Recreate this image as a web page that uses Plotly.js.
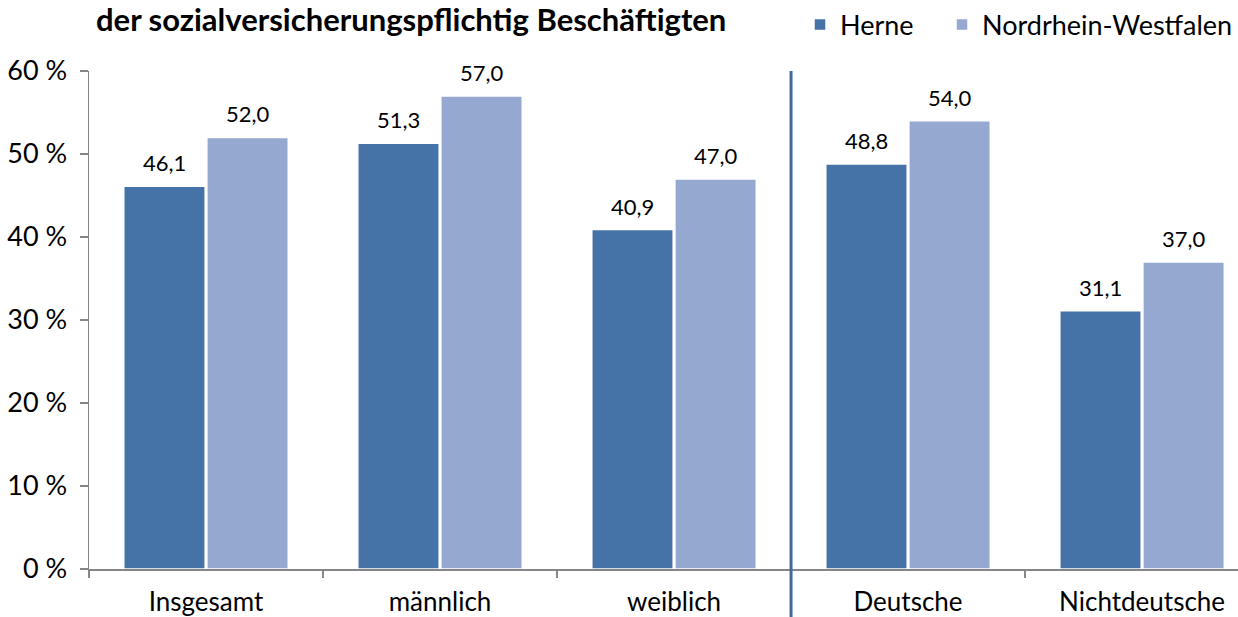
<!DOCTYPE html>
<html>
<head>
<meta charset="utf-8">
<script src="https://cdn.plot.ly/plotly-3.0.1.min.js"></script>
<style>html,body{margin:0;padding:0;background:#fff;}#chart{width:1238px;height:617px;}</style>
</head>
<body>
<div id="chart"></div>
<script>
const categories = ["Insgesamt", "männlich", "weiblich", "Deutsche", "Nichtdeutsche"];
const herne = [46.1, 51.3, 40.9, 48.8, 31.1];
const nrw = [52.0, 57.0, 47.0, 54.0, 37.0];
const seriesNames = ["Herne", "Nordrhein-Westfalen"];
const titleText = "der sozialversicherungspflichtig Beschäftigten";

const FONT = "Lato, 'Open Sans', sans-serif";
const fmt = v => v.toFixed(1).replace('.', ',');
const bargap = 0.29, groupgap = 0.02;
const off = (1 - bargap) / 4;

const traces = [
  {type: 'bar', name: seriesNames[0], x: categories, y: herne, legend: 'legend',
   marker: {color: '#4572a7', line: {color: '#ffffff', width: 1.5}}, hoverinfo: 'none'},
  {type: 'bar', name: seriesNames[1], x: categories, y: nrw, legend: 'legend2',
   marker: {color: '#95a9d0', line: {color: '#ffffff', width: 1.5}}, hoverinfo: 'none'}
];

const annotations = [];
[herne, nrw].forEach((arr, s) => {
  arr.forEach((v, i) => {
    annotations.push({x: i + (s === 0 ? -off : off), xref: 'x', y: v, yref: 'y',
      text: fmt(v), showarrow: false, yanchor: 'bottom', yshift: 8,
      font: {family: FONT, size: 22, color: '#000'}});
  });
});
annotations.push({x: (95 - 89) / 1149, xref: 'paper', xanchor: 'left',
  y: (569 - 19) / 498, yref: 'paper', yanchor: 'middle', borderpad: 0,
  text: '<b>' + titleText + '</b>', showarrow: false,
  font: {family: FONT, size: 31, color: '#000'}});

const legendBase = {orientation: 'h', y: (569 - 25) / 498, yanchor: 'middle',
  font: {family: FONT, size: 27, color: '#000'}, itemwidth: 30, bgcolor: 'rgba(0,0,0,0)'};

const layout = {
  width: 1238, height: 617,
  margin: {l: 89, r: 0, t: 71, b: 48, autoexpand: false},
  paper_bgcolor: '#fff', plot_bgcolor: '#fff',
  barmode: 'group', bargap: bargap, bargroupgap: groupgap,
  showlegend: true,
  legend: Object.assign({}, legendBase, {x: (800 - 89) / 1149, xanchor: 'left'}),
  legend2: Object.assign({}, legendBase, {x: 1, xanchor: 'right'}),
  xaxis: {type: 'category', range: [-0.5, 4.41], showline: true, linecolor: '#868686', linewidth: 1.5,
    ticks: 'outside', tickson: 'boundaries', ticklen: 7, tickcolor: '#868686', tickwidth: 1.5,
    ticklabelstandoff: 9,
    tickfont: {family: FONT, size: 26, color: '#000'}, showgrid: false, zeroline: false, fixedrange: true},
  yaxis: {range: [0, 60], dtick: 10, ticksuffix: ' %', showline: true, linecolor: '#868686', linewidth: 1.5,
    ticks: 'outside', ticklen: 8, tickcolor: '#868686', tickwidth: 1.5, ticklabelstandoff: 7,
    tickfont: {family: FONT, size: 27, color: '#000'}, showgrid: false, zeroline: false, fixedrange: true},
  shapes: [{type: 'line', xref: 'x', yref: 'paper', x0: 2.5, x1: 2.5, y0: -0.1, y1: 1,
    line: {color: '#3e6a9e', width: 3}}],
  annotations: annotations
};

Plotly.newPlot('chart', traces, layout, {staticPlot: true});
</script>
</body>
</html>
